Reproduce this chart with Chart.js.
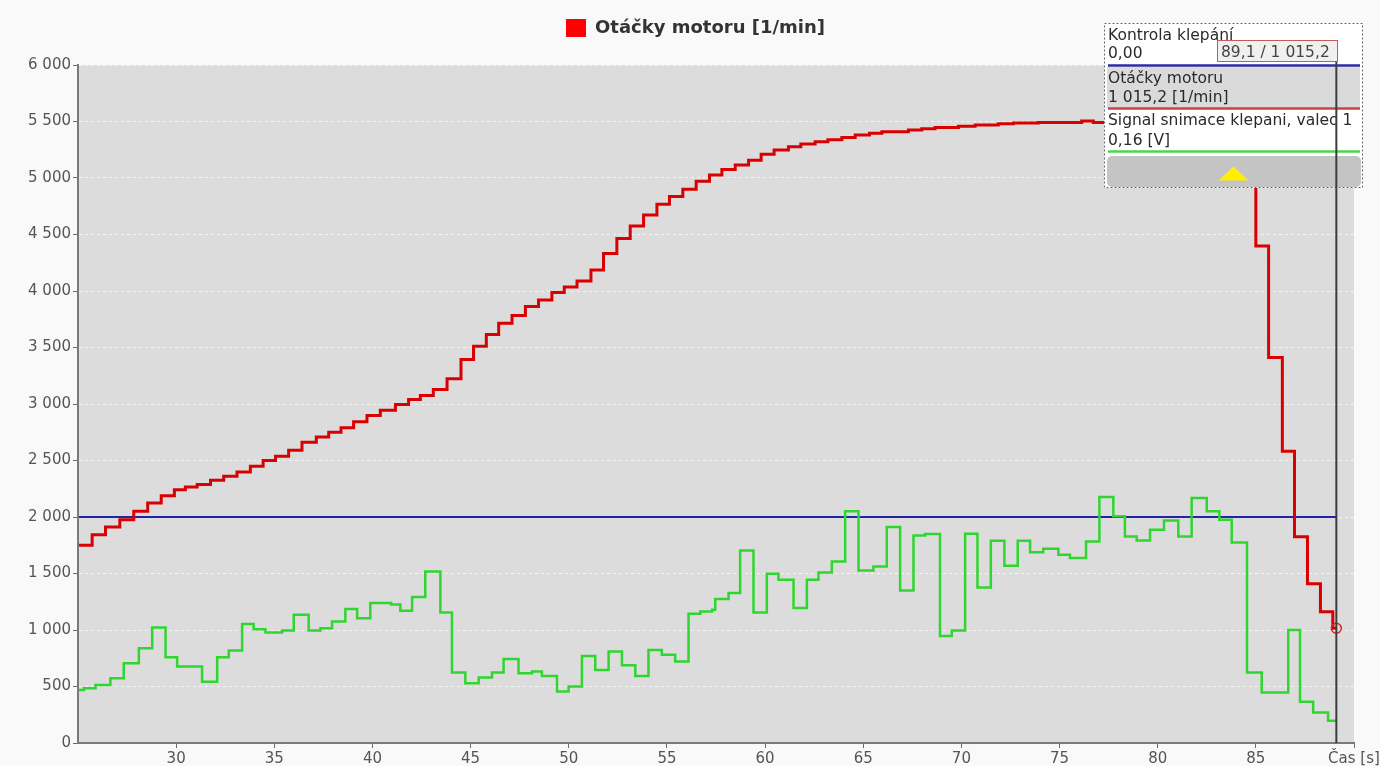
<!DOCTYPE html>
<html lang="cs">
<head>
<meta charset="utf-8">
<title>Otáčky motoru</title>
<script src="https://cdn.jsdelivr.net/npm/chart.js@4.4.1/dist/chart.umd.min.js"></script>
<style>
  html, body { margin: 0; padding: 0; background: #f9f9f9; }
  #wrap { width: 1380px; height: 766px; }
</style>
</head>
<body>
<div id="wrap"><canvas id="c" width="1380" height="766"></canvas></div>
<script>
// Engine speed: step start time [s] and held value [1/min]
const RPM_TIME = [25.0, 25.72, 26.4, 27.13, 27.84, 28.55, 29.24, 29.91, 30.47, 31.07, 31.75, 32.42, 33.1, 33.78,
  34.43, 35.06, 35.73, 36.41, 37.14, 37.77, 38.4, 39.04, 39.72, 40.4, 41.17, 41.84, 42.44, 43.1, 43.8, 44.51,
  45.15, 45.8, 46.43, 47.11, 47.79, 48.46, 49.14, 49.77, 50.42, 51.13, 51.77, 52.45, 53.13, 53.81, 54.49,
  55.13, 55.81, 56.49, 57.17, 57.8, 58.48, 59.16, 59.8, 60.46, 61.19, 61.82, 62.55, 63.2, 63.91, 64.59,
  65.32, 65.95, 67.3, 67.98, 68.66, 69.85, 70.7, 71.88, 72.65, 73.92, 76.13, 76.72, 79.5, 82.0, 85.0,
  85.65, 86.35, 86.97, 87.63, 88.29, 88.92, 89.1];
const RPM_VALUES = [1750, 1843, 1912, 1976, 2050, 2124, 2189, 2242, 2266, 2287, 2325, 2360, 2399, 2449,
  2499, 2537, 2591, 2661, 2709, 2750, 2789, 2842, 2898, 2945, 2995, 3040, 3075, 3129, 3223, 3394,
  3512, 3616, 3714, 3784, 3862, 3920, 3986, 4035, 4089, 4186, 4331, 4464, 4576, 4673, 4768,
  4836, 4901, 4972, 5027, 5075, 5114, 5158, 5211, 5247, 5276, 5300, 5320, 5338, 5359, 5380,
  5397, 5409, 5424, 5436, 5448, 5457, 5468, 5480, 5486, 5492, 5504, 5492, 5488, 5480, 4399,
  3412, 2582, 1825, 1409, 1161, 1015.2, 1015.2];

// Knock sensor signal, cylinder 1 (plotted on the shared axis)
const KNOCK_TIME = [25.0, 25.3, 25.89, 26.65, 27.33, 28.1, 28.78, 29.46, 30.05, 31.32, 32.09, 32.68, 33.36,
  33.95, 34.55, 35.4, 35.99, 36.75, 37.35, 37.94, 38.62, 39.22, 39.89, 40.95, 41.42, 42.02, 42.69, 43.46,
  44.05, 44.73, 45.41, 46.09, 46.68, 47.44, 48.13, 48.63, 49.4, 49.99, 50.67, 51.35, 52.03, 52.71, 53.39,
  54.06, 54.74, 55.42, 56.1, 56.7, 57.3, 57.46, 58.14, 58.73, 59.41, 60.09, 60.68, 61.45, 62.13, 62.72,
  63.4, 64.08, 64.76, 65.52, 66.2, 66.88, 67.56, 68.15, 68.91, 69.51, 70.19, 70.82, 71.5, 72.19, 72.87,
  73.5, 74.17, 74.94, 75.53, 76.35, 77.03, 77.74, 78.33, 78.93, 79.61, 80.32, 81.05, 81.73, 82.5, 83.14,
  83.77, 84.55, 85.3, 86.65, 87.25, 87.92, 88.68, 89.1];
const KNOCK_VALUES = [470, 485, 514, 573, 706, 839, 1023, 759, 676, 543, 759, 818, 1052,
  1007, 978, 995, 1134, 995, 1016, 1075, 1185, 1105, 1238, 1225, 1170, 1291, 1518, 1155,
  623, 529, 579, 623, 744, 618, 632, 594, 455, 499, 771, 647, 809, 689, 594,
  824, 780, 721, 1143, 1164, 1179, 1274, 1327, 1704, 1155, 1498, 1445, 1194, 1445, 1509,
  1607, 2050, 1527, 1562, 1912, 1350, 1837, 1850, 948, 995, 1852, 1377, 1790, 1569, 1790,
  1687, 1719, 1666, 1637, 1784, 2177, 2006, 1828, 1793, 1888, 1970, 1828, 2169, 2050, 1976,
  1775, 623, 446, 1001, 366, 269, 198, 198];

// Knock control threshold
const LIMIT_TIME = [25.0, 89.1];
const LIMIT_VALUES = [2000, 2000];

// Axes
const X_MIN = 25;
const X_MAX = 90;
const X_TICKS = [30, 35, 40, 45, 50, 55, 60, 65, 70, 75, 80, 85, 90];
const X_AXIS_TITLE = 'Čas [s]';
const Y_MIN = 0;
const Y_MAX = 6000;
const Y_STEP = 500;

// Cursor and readout texts
const CURSOR_TIME = 89.1;
const LEGEND_TEXT = 'Otáčky motoru [1/min]';
const RPM_NAME = 'Otáčky motoru';
const RPM_UNIT = '[1/min]';
const KNOCK_NAME = 'Signal snimace klepani, valec 1';
const KNOCK_READOUT = '0,16 [V]';
const LIMIT_NAME = 'Kontrola klepání';
const LIMIT_READOUT = '0,00';

const FONT = "'DejaVu Sans', 'Noto Sans', sans-serif";

function groupThousands(intStr) {
  return intStr.replace(/\B(?=(\d{3})+(?!\d))/g, ' ');
}
function fmt(v, dec) {
  const s = v.toFixed(dec);
  const parts = s.split('.');
  return groupThousands(parts[0]) + (parts[1] ? ',' + parts[1] : '');
}
function toPoints(xs, ys) {
  return xs.map((x, i) => ({ x: x, y: ys[i] }));
}

const lastRpm = RPM_VALUES[RPM_VALUES.length - 1];

const frame = {
  id: 'frame',
  beforeUpdate(chart) {
    // reserve a fixed band above the plot for the legend
    const lg = chart.legend;
    if (lg && !lg.__band) {
      const fit = lg.fit;
      lg.fit = function () { fit.call(this); this.height = 65; };
      lg.__band = true;
    }
  },
  afterLayout(chart) {
    // centre the legend over the band right of the axis labels
    const lg = chart.legend;
    if (lg) { lg.left = 37; lg.width = lg.right - lg.left; }
  },
  beforeDraw(chart) {
    const { ctx, chartArea: a } = chart;
    ctx.save();
    ctx.fillStyle = '#f9f9f9';
    ctx.fillRect(0, 0, chart.width, chart.height);
    ctx.fillStyle = '#dcdcdc';
    ctx.fillRect(a.left, a.top, a.right - a.left, a.bottom - a.top);
    ctx.restore();
  },
  afterDraw(chart) {
    const ctx = chart.ctx;
    const L = 1104, T = 23, W = 259, H = 165;
    ctx.save();

    // readout panel
    ctx.fillStyle = '#ffffff';
    ctx.fillRect(L, T, W, H);
    ctx.fillStyle = '#dadada';
    ctx.fillRect(L + 3, 67, W - 6, 41);

    // cursor value box
    ctx.fillStyle = '#f2efef';
    ctx.fillRect(1217, 40, 121, 22);
    ctx.strokeStyle = '#c45a5a';
    ctx.lineWidth = 1;
    ctx.strokeRect(1217.5, 40.5, 120, 21);

    // series colour bars
    const bar = (y, c) => {
      ctx.strokeStyle = c; ctx.lineWidth = 2.5;
      ctx.beginPath(); ctx.moveTo(L + 4, y); ctx.lineTo(L + W - 3, y); ctx.stroke();
    };
    bar(65.5, '#2b2ba6');
    bar(108.5, '#c84444');
    bar(151.5, '#4cd44c');

    // texts
    ctx.font = '15.5px ' + FONT;
    ctx.textBaseline = 'alphabetic';
    ctx.textAlign = 'left';
    ctx.fillStyle = '#2a2a2a';
    ctx.fillText(LIMIT_NAME, L + 4, 40);
    ctx.fillText(LIMIT_READOUT, L + 4, 58);
    ctx.fillText(RPM_NAME, L + 4, 83);
    ctx.fillText(fmt(lastRpm, 1) + ' ' + RPM_UNIT, L + 4, 102);
    ctx.fillText(KNOCK_NAME, L + 4, 125);
    ctx.fillText(KNOCK_READOUT, L + 4, 145);
    ctx.fillStyle = '#444444';
    ctx.fillText(fmt(CURSOR_TIME, 1) + ' / ' + fmt(lastRpm, 1), 1221, 57);

    // scroll button
    ctx.fillStyle = '#c4c4c4';
    ctx.beginPath();
    ctx.roundRect(L + 3, 156, W - 5, 31, 5);
    ctx.fill();
    ctx.fillStyle = '#fff000';
    ctx.beginPath();
    ctx.moveTo(1233.5, 166.5);
    ctx.lineTo(1248.5, 180.5);
    ctx.lineTo(1218.5, 180.5);
    ctx.closePath();
    ctx.fill();

    // dotted frame
    ctx.strokeStyle = '#666666';
    ctx.lineWidth = 1;
    ctx.setLineDash([2, 2]);
    ctx.strokeRect(L + 0.5, T + 0.5, W - 1, H - 1);
    ctx.setLineDash([]);

    // time cursor
    const cx = chart.scales.x.getPixelForValue(CURSOR_TIME);
    ctx.strokeStyle = '#3c3c3c';
    ctx.lineWidth = 2;
    ctx.beginPath();
    ctx.moveTo(cx, 62);
    ctx.lineTo(cx, chart.chartArea.bottom);
    ctx.stroke();
    ctx.restore();
  }
};

Chart.defaults.font.family = FONT;
Chart.defaults.color = '#555555';

new Chart(document.getElementById('c'), {
  type: 'line',
  data: {
    datasets: [
      {
        label: LEGEND_TEXT,
        data: toPoints(RPM_TIME, RPM_VALUES),
        borderColor: '#d80000',
        borderWidth: 3,
        stepped: 'before',
        pointRadius: (c) => (c.dataIndex === RPM_VALUES.length - 1 ? 5 : 0),
        pointBorderColor: '#d02828',
        pointBackgroundColor: 'rgba(0,0,0,0)',
        pointBorderWidth: 1.5
      },
      {
        label: KNOCK_NAME,
        data: toPoints(KNOCK_TIME, KNOCK_VALUES),
        borderColor: '#2fd62f',
        borderWidth: 2.5,
        stepped: 'before',
        pointRadius: 0
      },
      {
        label: LIMIT_NAME,
        data: toPoints(LIMIT_TIME, LIMIT_VALUES),
        borderColor: '#2323a8',
        borderWidth: 2,
        pointRadius: 0
      }
    ]
  },
  options: {
    responsive: false,
    animation: false,
    events: [],
    layout: { padding: { top: 0, left: 0, right: 26, bottom: 0 } },
    plugins: {
      tooltip: { enabled: false },
      legend: {
        display: true,
        position: 'top',
        labels: {
          boxWidth: 20,
          boxHeight: 18,
          padding: 19,
          color: '#333333',
          font: { family: FONT, size: 18, weight: 'bold' },
          generateLabels: () => [{
            text: LEGEND_TEXT,
            fillStyle: '#ff0000',
            strokeStyle: '#ff0000',
            lineWidth: 0,
            hidden: false,
            datasetIndex: 0,
            fontColor: '#333333'
          }]
        }
      }
    },
    scales: {
      x: {
        type: 'linear',
        min: X_MIN,
        max: X_MAX,
        afterBuildTicks: (s) => { s.ticks = X_TICKS.map(v => ({ value: v })); },
        afterFit: (s) => { s.height = 23; s.paddingLeft = 0; s.paddingRight = 0; },
        ticks: {
          padding: 2,
          color: '#555555',
          font: { size: 15 },
          maxRotation: 0,
          autoSkip: false,
          callback: (v) => (v === X_MAX ? X_AXIS_TITLE : String(v))
        },
        grid: { drawOnChartArea: false, tickLength: 5, tickColor: '#6a6a6a', tickWidth: 1 },
        border: { color: '#7a7a7a', width: 2, z: 1 }
      },
      y: {
        min: Y_MIN,
        max: Y_MAX,
        afterFit: (s) => { s.width = 78; },
        ticks: {
          stepSize: Y_STEP,
          padding: 2,
          color: '#555555',
          font: { size: 15 },
          callback: (v) => groupThousands(String(v))
        },
        grid: { color: '#f4f4f4', lineWidth: 1, tickLength: 5, tickColor: '#6a6a6a', tickBorderDash: [] },
        border: { color: '#7a7a7a', width: 2, dash: [3, 3], z: 1 }
      }
    }
  },
  plugins: [frame]
});
</script>
</body>
</html>
